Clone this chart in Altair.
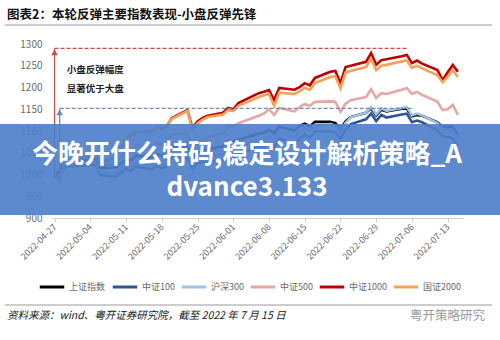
import altair as alt
import pandas as pd

FONT = "Noto Sans CJK SC"

dates = ["2022-04-27", "2022-04-28", "2022-04-29", "2022-05-05", "2022-05-06", "2022-05-09",
         "2022-05-10", "2022-05-11", "2022-05-12", "2022-05-13", "2022-05-16", "2022-05-17",
         "2022-05-18", "2022-05-19", "2022-05-20", "2022-05-23", "2022-05-24", "2022-05-25",
         "2022-05-26", "2022-05-27", "2022-05-30", "2022-05-31", "2022-06-01", "2022-06-02",
         "2022-06-06", "2022-06-07", "2022-06-08", "2022-06-09", "2022-06-10", "2022-06-13",
         "2022-06-14", "2022-06-15", "2022-06-16", "2022-06-17", "2022-06-20", "2022-06-21",
         "2022-06-22", "2022-06-23", "2022-06-24", "2022-06-27", "2022-06-28", "2022-06-29",
         "2022-06-30", "2022-07-01", "2022-07-04", "2022-07-05", "2022-07-06", "2022-07-07",
         "2022-07-08", "2022-07-11", "2022-07-12", "2022-07-13", "2022-07-14", "2022-07-15"]

sse = [1000, 1006, 1030, 1037, 1015, 1016, 1026, 1034, 1033, 1043, 1039, 1046, 1043, 1047,
       1064, 1064, 1038, 1050, 1056, 1058, 1065, 1077, 1076, 1080, 1094, 1096, 1103, 1095,
       1110, 1101, 1112, 1117, 1111, 1121, 1121, 1118, 1104, 1122, 1132, 1142, 1152, 1136,
       1149, 1145, 1151, 1151, 1134, 1137, 1135, 1120, 1109, 1110, 1109, 1091]
csi100 = [1000, 990, 1018, 1022, 998, 995, 1004, 1013, 1008, 1018, 1012, 1020, 1014, 1019,
          1040, 1038, 1013, 1025, 1028, 1029, 1033, 1046, 1043, 1047, 1065, 1063, 1072, 1064,
          1083, 1070, 1083, 1093, 1085, 1099, 1100, 1097, 1083, 1104, 1116, 1127, 1140, 1123,
          1137, 1131, 1138, 1140, 1120, 1124, 1120, 1101, 1088, 1086, 1083, 1066]
csi300 = [1000, 996, 1024, 1028, 1005, 1003, 1012, 1022, 1018, 1028, 1022, 1030, 1025, 1030,
          1051, 1050, 1025, 1036, 1041, 1042, 1047, 1060, 1058, 1062, 1080, 1079, 1088, 1080,
          1098, 1085, 1098, 1108, 1101, 1114, 1116, 1113, 1099, 1119, 1131, 1142, 1155, 1138,
          1152, 1146, 1153, 1155, 1136, 1140, 1136, 1118, 1105, 1103, 1101, 1083]
csi500 = [1000, 995, 1030, 1042, 1020, 1026, 1040, 1055, 1055, 1068, 1063, 1072, 1068, 1073,
          1092, 1095, 1060, 1072, 1080, 1085, 1095, 1112, 1110, 1118, 1135, 1140, 1150, 1137,
          1153, 1145, 1155, 1162, 1158, 1167, 1168, 1167, 1144, 1163, 1171, 1178, 1196, 1176,
          1187, 1185, 1195, 1199, 1185, 1190, 1183, 1167, 1148, 1150, 1160, 1137]
csi1000 = [1000, 988, 1030, 1048, 1028, 1040, 1062, 1085, 1090, 1098, 1098, 1108, 1105, 1112,
           1130, 1148, 1107, 1122, 1130, 1135, 1142, 1153, 1150, 1164, 1187, 1190, 1194, 1171,
           1199, 1195, 1201, 1210, 1205, 1222, 1236, 1238, 1210, 1247, 1250, 1259, 1279, 1252,
           1263, 1265, 1272, 1275, 1256, 1262, 1255, 1240, 1217, 1235, 1252, 1236]
gz2000 = [1000, 985, 1028, 1050, 1030, 1042, 1064, 1086, 1092, 1100, 1098, 1108, 1106, 1113,
          1128, 1146, 1102, 1118, 1126, 1132, 1138, 1148, 1146, 1158, 1178, 1182, 1185, 1158,
          1188, 1185, 1191, 1199, 1195, 1210, 1224, 1226, 1198, 1235, 1238, 1247, 1266, 1240,
          1250, 1252, 1260, 1262, 1245, 1250, 1244, 1228, 1212, 1225, 1240, 1224]

series_names = ["上证指数", "中证100", "沪深300", "中证500", "中证1000", "国证2000"]
series_colors = ["#000000", "#2f5597", "#9dc3e6", "#e6a7a7", "#c00000", "#f4a259"]

tick_dates = [(2022, 4, 27), (2022, 5, 4), (2022, 5, 11), (2022, 5, 18), (2022, 5, 25),
              (2022, 6, 1), (2022, 6, 8), (2022, 6, 15), (2022, 6, 22), (2022, 6, 29),
              (2022, 7, 6), (2022, 7, 13)]
y_ticks = [900, 950, 1000, 1050, 1100, 1150, 1200, 1250, 1300]

# annotation values
ann_start = ["2022-04-27", "2022-04-28"]
ann_end = ["2022-07-05", "2022-07-06"]
ann_level = [1290, 1152]
ann_base = [990, 990]
ann_color = ["#c0504d", "#6f8db3"]
note_lines = ["小盘反弹幅度", "显著优于大盘"]
note_levels = [1240, 1197]

title_text = "图表2：本轮反弹主要指数表现-小盘反弹先锋"
source_text = "资料来源：wind、粤开证券研究院，截至 2022 年 7 月 15 日"
mark_text_wm = "粤开策略研究"
banner_lines = ["今晚开什么特码,稳定设计解析策略_A", "dvance3.133"]

rows = []
for name, vals in zip(series_names, [sse, csi100, csi300, csi500, csi1000, gz2000]):
    for d, v in zip(dates, vals):
        rows.append({"date": d, "index": name, "value": v})
df = pd.DataFrame(rows)

ann_df = pd.DataFrame({"start": ann_start, "end": ann_end, "level": ann_level,
                       "base": ann_base, "c": ann_color})
note_df = pd.DataFrame({"t": note_lines, "level": note_levels, "d": ["2022-04-29"] * 2})

x_scale = alt.Scale(type="utc", domain=[
    alt.DateTime(year=2022, month=4, date=26, hours=12, utc=True),
    alt.DateTime(year=2022, month=7, date=16, utc=True)])
y_scale = alt.Scale(domain=[900, 1300], nice=False, zero=False)

x_axis = alt.Axis(
    values=[alt.DateTime(year=a, month=b, date=c, utc=True) for a, b, c in tick_dates],
    labelExpr="utcFormat(datum.value, '%Y-%m-%d')",
    labelAngle=315, labelAlign="right", labelBaseline="middle", labelOverlap=False,
    labelFontSize=9, labelColor="#6b6b6b", labelFont=FONT, labelPadding=3,
    domainColor="#d0d0d0", tickColor="#d0d0d0", tickSize=4, grid=False, title=None)
y_axis = alt.Axis(values=y_ticks, format="d", labelOverlap=False, labelFontSize=10,
                  labelColor="#6b6b6b", labelFont=FONT,
                  domain=False, ticks=False, grid=False, labelPadding=10, title=None)


def X(field):
    return alt.X(field, scale=x_scale, axis=x_axis)


def Y(field):
    return alt.Y(field, scale=y_scale, axis=y_axis)


lines = alt.Chart(df).mark_line(strokeWidth=2.6).encode(
    x=X("date:T"),
    y=Y("value:Q"),
    color=alt.Color("index:N", scale=alt.Scale(domain=series_names, range=series_colors),
                    sort=series_names,
                    legend=alt.Legend(orient="none", legendX=-14, legendY=229,
                                      direction="horizontal", title=None,
                                      symbolType="stroke", symbolSize=600,
                                      symbolStrokeWidth=3, labelFontSize=9,
                                      labelColor="#6b6b6b", labelFont=FONT,
                                      columnPadding=0, labelOffset=3)),
    order=alt.Order("date:T"),
)

dash = alt.Chart(ann_df).mark_rule(strokeDash=[4, 2], strokeWidth=1.3).encode(
    x=X("start:T"), x2="end:T",
    y=Y("level:Q"),
    color=alt.Color("c:N", scale=None, legend=None))
arrow = alt.Chart(ann_df).mark_rule(strokeWidth=1.3).encode(
    x=X("start:T"),
    y=Y("base:Q"), y2="level:Q",
    color=alt.Color("c:N", scale=None, legend=None))
heads = alt.Chart(ann_df).mark_point(shape="triangle-up", filled=True, size=45,
                                     opacity=1, yOffset=4).encode(
    x=X("start:T"),
    y=Y("level:Q"),
    color=alt.Color("c:N", scale=None, legend=None))
notes = alt.Chart(note_df).mark_text(align="left", baseline="middle", fontSize=9.5,
                                     fontWeight="bold", font=FONT, color="#222222",
                                     dx=2).encode(
    x=X("d:T"), y=Y("level:Q"), text="t:N")

one = pd.DataFrame({"k": [0]})
banner = alt.Chart(one).mark_rect(color="#4f7fca", opacity=0.92).encode(
    x=alt.value(-52), x2=alt.value(448), y=alt.value(80), y2=alt.value(171))
banner_txt = alt.Chart(one).mark_text(align="center", baseline="middle", fontSize=26,
                                      fontWeight="bold", font=FONT, color="white",
                                      lineHeight=33).encode(
    x=alt.value(195), y=alt.value(111), text=alt.value(banner_lines))

title = alt.Chart(one).mark_text(align="left", baseline="middle", fontSize=12.5,
                                 fontWeight="bold", font=FONT, color="#111111").encode(
    x=alt.value(-45), y=alt.value(-29), text=alt.value(title_text))
title_rule = alt.Chart(one).mark_rule(color="#9a9a9a", strokeWidth=1).encode(
    x=alt.value(-47), x2=alt.value(440), y=alt.value(-19))
foot_rule = alt.Chart(one).mark_rule(color="#9a9a9a", strokeWidth=1).encode(
    x=alt.value(-47), x2=alt.value(440), y=alt.value(261))
source = alt.Chart(one).mark_text(align="left", baseline="middle", fontSize=10.5,
                                  fontStyle="italic", font=FONT, color="#222222").encode(
    x=alt.value(-45), y=alt.value(272), text=alt.value(source_text))
wm = alt.Chart(one).mark_text(align="right", baseline="middle", fontSize=12.5,
                              font=FONT, color="#9a9a9a").encode(
    x=alt.value(433), y=alt.value(272), text=alt.value(mark_text_wm))

chart = alt.layer(lines, dash, arrow, heads, notes, banner, banner_txt,
                  title, title_rule, foot_rule, source, wm).properties(
    width=411, height=174,
    padding={"left": 52, "top": 44, "right": 37, "bottom": 122},
    autosize=alt.AutoSizeParams(type="none"),
    background="white",
).configure_view(stroke=None)

chart.save("out.html", embed_options={"renderer": "svg", "actions": False})
